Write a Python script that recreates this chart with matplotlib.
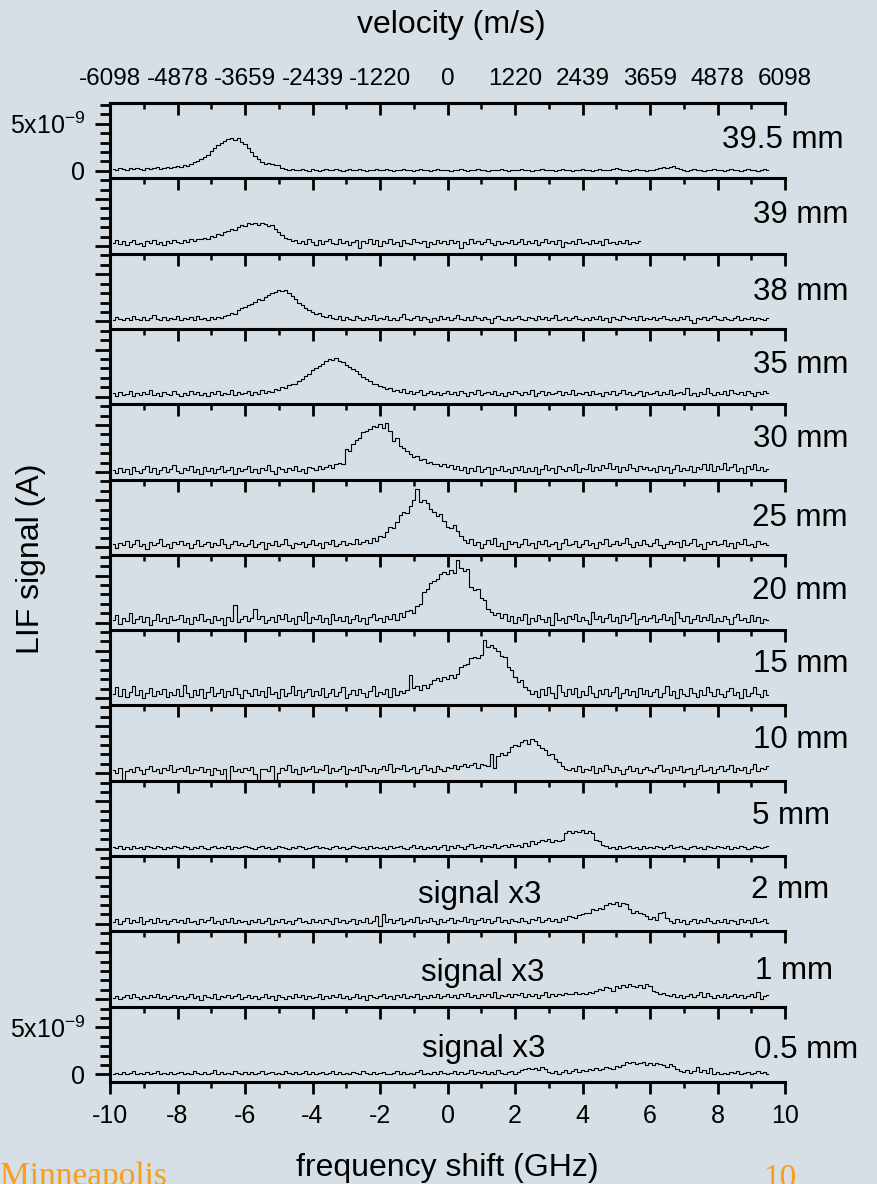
import numpy as np
import matplotlib
matplotlib.use('Agg')
import matplotlib.pyplot as plt
from matplotlib.ticker import MultipleLocator, FixedLocator, FixedFormatter

plt.rcParams['font.family'] = 'Liberation Sans'
plt.rcParams['mathtext.fontset'] = 'custom'
plt.rcParams['mathtext.rm'] = 'Liberation Sans'
plt.rcParams['mathtext.it'] = 'Liberation Sans:italic'
plt.rcParams['mathtext.bf'] = 'Liberation Sans:bold'
plt.rcParams['axes.unicode_minus'] = False

# LIF traces, in units of 1e-10 A, bins of 0.1 GHz starting at -9.9 GHz
freq_start = -9.9
freq_step = 0.1

sig_395 = [2,1,3,2,1,3,2,3,2,1,3,2,3,4,2,3,4,3,4,5,
           4,6,5,7,9,10,12,15,17,21,24,27,30,32,34,35,33,35,31,28,
           24,20,16,12,9,7,8,7,6,6,3,2,1,2,1,1,2,1,0,2,
           1,0,1,2,1,1,2,1,0,1,2,1,1,2,1,0,1,1,2,1,
           1,2,1,0,1,1,2,1,1,0,1,2,1,1,0,1,2,1,1,1,
           0,1,1,2,1,0,1,1,2,1,1,0,1,1,1,2,1,0,1,1,
           1,2,1,1,0,1,1,2,1,1,1,0,1,2,1,1,0,1,1,2,
           1,1,0,1,2,1,1,1,2,3,2,1,1,0,1,2,1,1,0,1,
           1,2,3,4,3,4,5,3,2,1,0,1,2,1,1,0,1,1,2,1,
           1,0,1,2,1,1,0,1,2,1,1,0,1,2,1]

sig_39 = [3,6,2,5,1,4,6,2,3,0,5,3,6,2,4,1,5,3,6,4,
          3,6,4,7,5,8,7,9,8,11,10,13,12,15,16,18,17,20,22,21,
          24,23,25,22,24,23,21,22,18,15,12,9,7,5,6,3,5,2,7,4,
          1,6,2,5,8,3,2,7,3,5,1,4,6,-2,5,3,8,2,6,0,
          5,3,7,2,4,0,6,3,2,8,4,3,5,-1,4,2,6,3,5,2,
          6,3,5,-2,4,2,7,3,5,2,4,8,3,1,5,2,4,3,6,2,
          4,7,2,5,3,6,1,4,8,3,5,2,6,-1,4,3,5,2,7,3,
          4,2,6,3,5,1,7,3,4,2,5,3,6,2,4,3,5]

sig_38 = [2,5,3,1,4,2,6,3,1,5,2,4,7,3,2,5,1,4,3,6,
          2,4,3,5,2,6,3,4,2,5,3,5,4,6,7,9,8,12,14,15,
          17,19,21,24,23,26,28,30,31,33,32,33,30,27,24,20,17,14,12,10,
          8,9,6,5,7,4,3,6,2,5,3,1,6,4,2,5,3,7,2,4,
          3,6,1,4,2,5,8,3,1,4,6,2,5,3,-1,4,2,6,3,5,
          2,4,7,3,1,5,2,6,4,2,5,3,-2,4,6,3,2,5,1,4,
          6,3,2,5,4,1,6,3,5,2,4,7,2,3,5,1,4,6,3,2,
          4,1,5,3,6,2,4,-1,5,3,2,6,4,3,5,2,6,1,4,3,
          5,2,4,6,3,1,4,2,5,3,6,2,-2,4,3,5,2,4,6,3,
          2,5,3,1,4,6,2,4,3,5,1,4,3,2,4]

sig_35 = [4,1,5,2,3,6,1,4,2,5,3,7,2,4,1,5,3,2,6,3,
          1,4,2,6,3,5,2,4,1,5,3,6,2,4,3,7,2,5,3,4,
          6,2,5,3,7,4,6,5,8,7,10,9,12,14,13,17,19,22,24,28,
          30,33,35,38,40,39,41,38,37,34,32,29,27,24,21,19,17,14,13,11,
          10,8,9,6,7,5,8,4,6,3,5,7,2,4,6,3,5,2,4,6,
          3,5,2,6,4,1,5,3,7,2,4,5,3,6,2,4,1,5,3,6,
          4,2,5,3,7,1,4,6,2,5,3,4,6,2,5,3,7,2,4,3,
          5,2,6,3,4,1,5,3,6,2,4,7,3,5,2,4,6,1,5,3,
          4,6,2,5,3,7,2,4,5,3,9,2,4,1,5,3,9,4,2,5,
          3,6,2,7,4,3,5,2,6,4,1,5,3,6,4]

sig_30 = [2,-1,4,0,3,-2,5,1,-1,3,6,0,4,-2,2,5,0,3,7,1,
          -1,4,2,6,0,3,-2,5,1,4,-1,3,6,0,2,5,-2,4,1,3,
          6,0,3,-1,4,2,7,1,-2,5,3,0,4,2,6,1,3,-1,5,4,
          2,6,3,5,7,4,8,10,9,24,22,30,34,36,43,44,46,49,48,51,
          47,52,44,33,36,28,26,22,19,16,17,13,14,10,11,8,9,6,8,5,
          7,3,6,2,5,-1,4,1,6,0,3,5,-2,4,2,6,1,3,-1,5,
          2,6,0,4,1,5,-2,3,7,2,4,-1,6,3,1,5,2,8,0,4,
          3,9,1,5,2,7,4,10,3,6,0,5,2,8,4,1,6,3,5,2,
          4,0,6,2,5,-1,3,7,1,4,2,6,0,5,3,8,2,9,1,6,
          3,10,2,5,9,1,4,-1,6,3,8,2,5,1,3]

sig_25 = [3,-1,5,2,7,0,4,8,1,3,-2,6,2,5,9,1,4,-1,6,3,
          7,2,5,-1,4,8,1,3,6,0,5,2,9,3,-1,4,7,2,5,1,
          4,8,0,3,6,-2,5,2,7,1,4,9,2,-1,5,3,6,0,4,8,
          2,5,-1,6,3,8,1,4,7,2,5,3,9,4,6,8,5,10,7,12,
          11,16,22,20,27,34,37,36,44,50,62,48,50,47,41,38,33,35,28,22,
          20,24,17,12,8,5,9,2,6,-1,4,8,3,10,1,5,-2,7,3,6,
          0,4,9,2,5,-1,7,3,8,1,4,6,-2,5,9,2,4,7,0,3,
          8,2,5,-1,6,3,9,1,4,7,2,5,10,3,0,6,2,8,4,1,
          5,9,2,-1,4,7,3,6,0,8,2,5,9,1,4,-2,6,3,7,2,
          4,8,1,5,-1,6,3,9,2,4,0,7,3,5,2]

sig_20 = [3,8,-1,5,2,10,0,4,7,1,6,-2,3,9,2,5,0,7,3,4,
          8,1,5,-1,6,3,9,2,4,0,7,3,5,-2,6,2,19,1,4,7,
          2,5,15,4,7,0,3,6,1,8,4,9,2,5,-1,7,3,11,0,6,
          4,8,1,5,-1,9,3,6,2,7,0,4,8,2,5,-1,6,9,3,5,
          1,7,4,9,3,10,6,12,13,10,18,20,33,36,42,44,46,52,54,52,
          56,53,67,58,55,57,38,35,36,26,24,14,11,8,10,5,9,2,7,0,
          6,3,9,-1,5,2,8,4,1,6,-2,10,3,5,0,7,4,9,2,6,
          3,-1,11,4,7,1,5,9,2,6,0,8,3,5,10,-1,4,7,2,5,
          8,1,4,9,3,6,-1,11,5,2,7,0,4,8,2,6,3,9,1,5,
          2,7,4,-1,6,9,3,5,1,8,2,6,0,4,3]

sig_15 = [4,12,2,9,1,6,13,3,8,0,5,11,2,7,4,10,1,6,3,9,
          2,14,5,1,8,3,10,0,6,12,2,5,9,1,7,3,11,4,0,8,
          5,2,10,3,7,1,12,4,6,0,9,2,5,13,3,8,1,6,10,2,
          7,3,11,1,5,9,2,6,12,0,4,8,3,10,5,1,7,13,2,6,
          4,9,1,11,3,7,5,8,24,11,13,8,14,11,15,19,21,18,22,20,
          24,21,25,33,35,36,42,44,42,46,62,54,56,53,50,45,44,33,30,22,
          17,19,12,8,4,7,1,9,3,12,5,0,14,6,2,9,4,11,1,7,
          3,13,5,1,8,4,10,2,6,12,0,5,9,3,7,1,11,4,8,2,
          6,10,1,5,13,3,7,0,9,4,2,11,5,1,8,3,12,6,2,9,
          4,1,7,11,3,6,0,9,2,5,12,4,1,8,3]

sig_10 = [3,0,6,-8,2,5,1,7,3,-1,4,8,2,5,0,6,3,9,1,4,
          6,2,8,0,5,3,7,1,4,-2,6,3,-1,5,-9,8,2,4,1,6,
          3,7,-1,-9,4,5,2,8,-9,0,6,3,9,1,5,-1,7,2,4,8,
          1,5,3,9,0,6,2,4,8,-1,5,3,7,1,9,4,2,6,0,5,
          8,3,10,1,6,4,9,2,5,7,0,4,9,3,6,1,8,5,2,7,
          6,9,4,8,10,7,9,11,6,10,9,8,20,6,18,21,19,23,28,30,
          29,33,35,31,36,34,30,27,25,19,20,15,12,8,5,3,6,2,8,1,
          5,3,8,0,6,2,9,4,1,7,3,-1,5,8,2,6,0,4,7,3,
          1,6,9,2,5,0,7,3,8,1,4,6,-1,5,9,2,3,7,0,5,
          8,2,4,9,1,6,3,7,0,5,10,2,6,4,8]

sig_5 = [2,1,3,0,2,-1,3,1,2,0,3,2,1,3,2,0,2,1,3,2,
         1,3,2,0,2,1,3,1,0,2,3,1,2,1,3,0,2,1,2,3,
         2,1,0,2,3,1,2,0,1,3,2,1,0,2,1,3,2,0,1,2,
         3,1,2,1,0,2,3,1,2,0,1,3,2,1,2,0,3,1,2,1,
         2,0,3,1,2,3,1,0,2,4,1,3,0,2,1,3,-1,2,4,-2,
         3,1,4,2,0,3,5,1,2,4,1,3,2,5,1,3,4,2,5,3,
         4,2,6,3,8,5,7,9,8,10,7,9,8,9,17,19,16,19,18,20,
         17,19,16,9,8,4,3,1,2,0,3,1,2,3,1,2,0,3,1,2,
         1,3,2,0,2,4,1,2,3,1,0,2,3,1,2,0,3,2,1,3,
         2,1,3,0,2,1,3,2,0,1,3,2,1,2,3]

sig_2 = [2,5,0,3,6,1,4,2,7,0,3,5,1,6,2,4,0,3,5,2,
         4,1,6,2,3,0,5,2,4,7,1,3,0,5,2,6,1,4,2,3,
         0,4,2,5,1,3,6,0,4,2,5,1,3,0,4,6,2,3,1,5,
         2,4,1,5,3,0,6,2,4,1,3,5,0,4,2,6,1,3,8,-2,
         10,2,5,1,4,6,0,3,5,2,7,1,4,2,6,3,0,5,2,4,
         6,1,4,3,7,2,5,0,4,6,2,5,1,3,7,2,4,1,5,3,
         2,6,3,1,5,4,7,2,4,6,3,5,2,6,4,8,7,6,9,10,
         12,11,16,15,17,16,20,22,21,23,19,22,21,16,12,14,11,10,8,5,
         7,4,12,13,6,3,1,5,2,4,0,3,5,1,4,2,6,3,1,4,
         2,5,1,4,3,0,5,2,4,1,6,2,3,5,1]

sig_1 = [1,3,0,2,4,1,5,2,0,3,1,4,2,6,1,3,0,2,4,1,
         3,0,2,5,1,3,-1,4,2,1,5,0,3,2,4,1,3,6,0,2,
         4,1,3,0,2,5,1,3,-1,4,2,0,3,1,5,2,4,0,3,1,
         2,5,0,3,1,4,2,6,1,3,0,2,5,1,3,-1,4,2,1,3,
         5,1,3,0,4,2,6,1,3,2,5,0,3,1,4,2,5,1,3,6,
         2,4,1,5,3,7,2,4,1,6,3,5,2,8,1,4,3,6,2,5,
         4,7,2,5,3,6,1,4,8,2,5,3,6,4,7,5,6,8,5,7,
         6,8,7,9,11,10,13,12,9,14,12,15,13,16,14,13,15,12,16,14,
         9,8,6,7,4,3,5,2,4,1,3,5,2,4,8,2,7,3,1,4,
         2,5,1,3,6,2,4,1,3,5,2,8,0,3,4]

sig_05 = [1,2,0,3,1,2,4,0,2,1,3,0,2,4,1,2,0,3,1,2,
          3,0,2,1,4,2,0,3,1,2,5,1,3,0,2,1,4,2,0,3,
          1,3,0,2,4,1,2,3,0,2,1,4,2,0,3,1,2,4,1,3,
          0,2,3,1,2,4,0,3,1,2,0,3,2,1,4,2,0,3,1,2,
          3,1,0,2,4,1,3,0,2,1,3,5,0,2,1,3,0,4,2,1,
          2,4,1,3,0,2,5,1,3,2,4,0,3,1,5,2,0,3,4,1,
          3,5,6,7,6,7,5,8,6,3,2,4,1,3,5,2,4,6,3,5,
          4,6,5,7,5,6,8,7,6,9,8,10,13,12,13,11,12,13,10,12,
          10,12,11,10,8,11,9,6,4,3,5,2,4,8,3,5,2,7,1,3,
          0,2,1,3,2,4,1,2,3,1,2,4,2,3,1]

distances = ['39.5 mm', '39 mm', '38 mm', '35 mm', '30 mm', '25 mm', '20 mm',
             '15 mm', '10 mm', '5 mm', '2 mm', '1 mm', '0.5 mm']
signals = [sig_395, sig_39, sig_38, sig_35, sig_30, sig_25, sig_20,
           sig_15, sig_10, sig_5, sig_2, sig_1, sig_05]
scaled_x3 = ['2 mm', '1 mm', '0.5 mm']

freq_ticks = [-10, -8, -6, -4, -2, 0, 2, 4, 6, 8, 10]
freq_labels = ['-10', '-8', '-6', '-4', '-2', '0', '2', '4', '6', '8', '10']
vel_labels = ['-6098', '-4878', '-3659', '-2439', '-1220', '0',
              '1220', '2439', '3659', '4878', '6098']

# layout (pixels of the 877x1184 picture)
W, H = 877, 1184
bg = '#d5dfe5'
label_right = [843, 848, 848, 848, 848, 848, 848, 848, 848, 830, 829, 833, 858]
label_off = [37, 37, 38, 36, 35, 38, 36, 34, 35, 35, 34, 40, 43]
x3_center = {'2 mm': (480, 39), '1 mm': (483, 42), '0.5 mm': (484, 42)}

fig = plt.figure(figsize=(W / 100, H / 100), dpi=100, facecolor=bg)
left, right, top, bottom = 110 / W, 785 / W, 1 - 103 / H, 1 - 1082 / H
n = len(signals)
ph = (top - bottom) / n
ax_w_px = 675
ax_h_px = (1082 - 103) / n

for k, (vals, dist) in enumerate(zip(signals, distances)):
    ax = fig.add_axes([left, top - (k + 1) * ph, right - left, ph])
    ax.patch.set_visible(False)
    x = freq_start + freq_step * np.arange(len(vals))
    y = np.array(vals) * 1e-10
    ax.plot(x, y, drawstyle='steps-mid', color='k', lw=0.8, clip_on=False)
    ax.set_xlim(-10, 10)
    ax.set_ylim(-0.8e-9, 7.2e-9)

    ax.spines['right'].set_visible(False)
    ax.spines['top'].set_visible(k == 0)
    for s in ['left', 'bottom', 'top']:
        ax.spines[s].set_linewidth(2.2)

    ax.xaxis.set_major_locator(FixedLocator(freq_ticks))
    ax.xaxis.set_major_formatter(FixedFormatter(freq_labels))
    ax.xaxis.set_minor_locator(MultipleLocator(1))
    ax.tick_params(axis='x', which='major', direction='out', length=8.6, width=2,
                   top=False, labelbottom=(k == n - 1), labelsize=18, pad=7)
    ax.tick_params(axis='x', which='minor', direction='out', length=4.3, width=1.8, top=False)

    ax.yaxis.set_major_locator(FixedLocator([0, 5e-9]))
    ax.yaxis.set_major_formatter(FixedFormatter(['0', r'5x10$^{-9}$']))
    ax.yaxis.set_minor_locator(MultipleLocator(1e-9))
    ax.tick_params(axis='y', which='major', direction='out', length=10.8, width=2,
                   labelleft=(k in (0, n - 1)), labelsize=18, pad=7)
    ax.tick_params(axis='y', which='minor', direction='out', length=7.2, width=2)

    if k == 0:
        sec = ax.secondary_xaxis('top')
        sec.set_xticks(freq_ticks, labels=vel_labels)
        sec.xaxis.set_minor_locator(MultipleLocator(1))
        sec.tick_params(which='major', direction='in', length=8.6, width=2, labelsize=17.5, pad=9)
        sec.tick_params(which='minor', direction='in', length=4.3, width=1.8)
        sec.spines['top'].set_linewidth(2.2)

    ax.text((label_right[k] - 110) / ax_w_px, 1 - label_off[k] / ax_h_px, dist,
            transform=ax.transAxes, ha='right', va='center', fontsize=22.5, clip_on=False)
    if dist in scaled_x3:
        cx, off = x3_center[dist]
        ax.text((cx - 110) / ax_w_px, 1 - off / ax_h_px, 'signal x3',
                transform=ax.transAxes, ha='center', va='center', fontsize=22.5)

fig.text(451 / W, 1 - 25 / H, 'velocity (m/s)', ha='center', va='center', fontsize=23)
fig.text(447 / W, 1 - 1168 / H, 'frequency shift (GHz)', ha='center', va='center', fontsize=23)
fig.text(31 / W, 1 - 559 / H, 'LIF signal (A)', ha='center', va='center',
         rotation=90, fontsize=23)

fig.text(0, -1 / H, 'Minneapolis', ha='left', va='baseline', fontsize=24,
         family='Liberation Serif', color='#f99d1c')
fig.text(763 / W, -3 / H, '10', ha='left', va='baseline', fontsize=24,
         family='Liberation Serif', color='#f99d1c')

fig.savefig('out.png', dpi=100, facecolor=bg)
